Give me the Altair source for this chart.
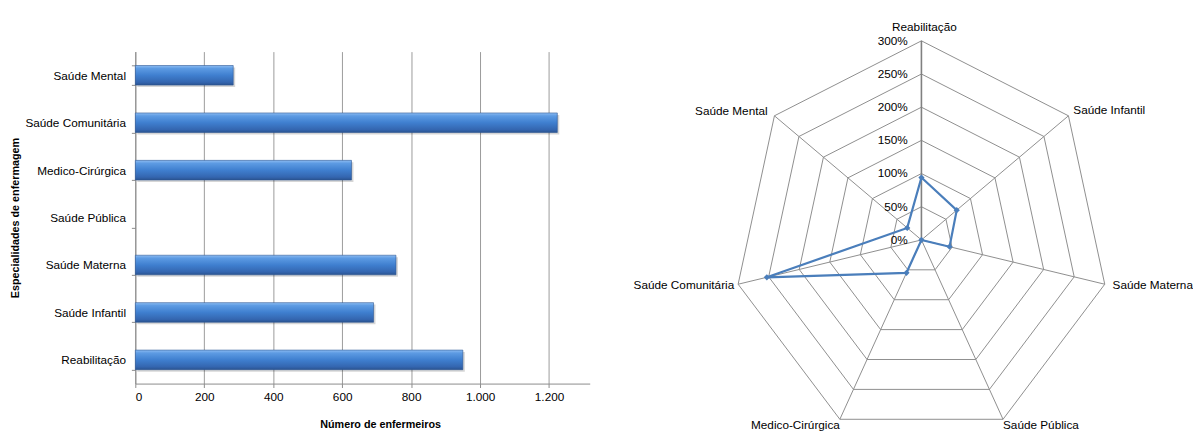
import altair as alt
import pandas as pd

# ---------------- data ----------------
bar_categories = ["Saúde Mental", "Saúde Comunitária", "Medico-Cirúrgica", "Saúde Pública",
                  "Saúde Materna", "Saúde Infantil", "Reabilitação"]
bar_values = [284, 1224, 627, 0, 756, 691, 950]
x_tick_values = [0, 200, 400, 600, 800, 1000, 1200]

radar_categories = ["Reabilitação", "Saúde Infantil", "Saúde Materna", "Saúde Pública",
                    "Medico-Cirúrgica", "Saúde Comunitária", "Saúde Mental"]
radar_values = [94, 72, 46, 0, 55, 253, 29]          # percent
radar_levels = [0, 50, 100, 150, 200, 250, 300]       # percent rings / tick labels

FONT = "Liberation Sans"
FS = 12
N = len(radar_categories)
NO_VIEW = alt.ViewBackground(strokeWidth=0, strokeOpacity=0)

# ---------------- left: horizontal bar chart ----------------
bar_df = pd.DataFrame({"cat": bar_categories, "n": bar_values})

gradient = alt.Gradient(
    gradient="linear", x1=0, x2=0, y1=0, y2=1,
    stops=[alt.GradientStop(color="#8dbcf2", offset=0),
           alt.GradientStop(color="#5d9be3", offset=0.15),
           alt.GradientStop(color="#3f7fcf", offset=0.5),
           alt.GradientStop(color="#3466b0", offset=0.85),
           alt.GradientStop(color="#2a5390", offset=1)])

x_enc = alt.X("n:Q",
              scale=alt.Scale(domain=[0, 1318], nice=False, zero=True),
              axis=alt.Axis(values=x_tick_values, title="Número de enfermeiros",
                            labelExpr="replace(format(datum.value, ','), ',', '.')",
                            grid=True, gridColor="#9a9a9a", gridWidth=1,
                            domainColor="#8a8a8a", tickColor="#8a8a8a", tickSize=4,
                            labelPadding=4, labelFontSize=FS, labelColor="#000000",
                            labelFont=FONT, titleFont=FONT, titleFontSize=11,
                            titleFontWeight="bold", titleColor="#000000",
                            titlePadding=17, titleX=250))
y_enc = alt.Y("cat:N", sort=bar_categories,
              scale=alt.Scale(domain=bar_categories, paddingInner=0.587, paddingOuter=0.2935),
              axis=alt.Axis(title="Especialidades de enfermagem", tickBand="extent",
                            domainColor="#8a8a8a", tickColor="#8a8a8a", tickSize=4,
                            labelPadding=6, labelFontSize=FS, labelColor="#000000",
                            labelFont=FONT, titleFont=FONT, titleFontSize=11,
                            titleFontWeight="bold", titleColor="#000000",
                            titlePadding=5))

bar_base = alt.Chart(bar_df).transform_filter("datum.n > 0")
shadow = bar_base.mark_bar(color="#000000", opacity=0.16, xOffset=2, yOffset=2).encode(
    x=x_enc, y=y_enc)
bars_main = bar_base.mark_bar(color=gradient, stroke="#2b5694", strokeWidth=0.6).encode(
    x=x_enc, y=y_enc)
bars = alt.layer(shadow, bars_main).properties(width=464, height=339, view=NO_VIEW)

# ---------------- right: radar chart ----------------
xs = alt.Scale(domain=[-460.5, 411.4], nice=False, zero=False)
ys = alt.Scale(domain=[-216.5, 283.8], nice=False, zero=False)

ring_df = pd.DataFrame({
    "level": [lv for lv in radar_levels[1:] for _ in range(N + 1)],
    "o": [k for _ in radar_levels[1:] for k in range(N + 1)],
})
ring_df["k"] = ring_df["o"] % N

axes_df = pd.DataFrame({"cat": radar_categories, "k": list(range(N)),
                        "r": [radar_levels[-1]] * N})

series_df = pd.DataFrame({"cat": radar_categories + radar_categories[:1],
                          "v": radar_values + radar_values[:1],
                          "o": list(range(N + 1))})
series_df["k"] = series_df["o"] % N

ticks_df = pd.DataFrame({"level": radar_levels,
                         "lab": [f"{lv}%" for lv in radar_levels]})

ang = "2*PI*datum.k/" + str(N)

rings = alt.Chart(ring_df).transform_calculate(
    x=f"datum.level*sin({ang})", y=f"datum.level*cos({ang})"
).mark_line(color="#8c8c8c", strokeWidth=1).encode(
    x=alt.X("x:Q", scale=xs, axis=None),
    y=alt.Y("y:Q", scale=ys, axis=None),
    detail="level:N", order="o:Q")

spokes = alt.Chart(axes_df).transform_calculate(
    x=f"datum.r*sin({ang})", y=f"datum.r*cos({ang})", x0="0", y0="0"
).mark_rule(color="#8c8c8c", strokeWidth=1).encode(
    x=alt.X("x0:Q", scale=xs, axis=None), y=alt.Y("y0:Q", scale=ys, axis=None),
    x2="x:Q", y2="y:Q")

value_axis = alt.Chart(axes_df).transform_filter("datum.k == 0").transform_calculate(
    x=f"datum.r*sin({ang})", y=f"datum.r*cos({ang})", x0="0", y0="0"
).mark_rule(color="#808080", strokeWidth=1.6).encode(
    x=alt.X("x0:Q", scale=xs, axis=None), y=alt.Y("y0:Q", scale=ys, axis=None),
    x2="x:Q", y2="y:Q")

series_base = alt.Chart(series_df).transform_calculate(
    x=f"datum.v*sin({ang})", y=f"datum.v*cos({ang})")

series_line = series_base.mark_line(color="#4a7ebb", strokeWidth=2.25).encode(
    x=alt.X("x:Q", scale=xs, axis=None), y=alt.Y("y:Q", scale=ys, axis=None),
    order="o:Q")
series_pts = series_base.transform_filter(f"datum.o < {N}").mark_point(
    shape="diamond", filled=True, size=40, color="#4a7ebb", opacity=1).encode(
    x=alt.X("x:Q", scale=xs, axis=None), y=alt.Y("y:Q", scale=ys, axis=None))

tick_labels = alt.Chart(ticks_df).transform_calculate(x0="0").mark_text(
    align="right", baseline="middle", dx=-14, font=FONT, fontSize=FS, color="#000000"
).encode(x=alt.X("x0:Q", scale=xs, axis=None),
         y=alt.Y("level:Q", scale=ys, axis=None), text="lab:N")

# label placement style per axis index: (align, dx, dy)
label_style = [("center", 3, -14.5), ("left", 5, -5.5), ("left", 8, 1),
               ("left", 0, 6), ("right", 0, 6), ("right", -4, 1), ("right", -7, -5)]

cat_labels = []
for k, (al, dx, dy) in enumerate(label_style):
    cat_labels.append(
        alt.Chart(axes_df).transform_filter(f"datum.k == {k}").transform_calculate(
            x=f"datum.r*sin({ang})", y=f"datum.r*cos({ang})"
        ).mark_text(align=al, baseline="middle", dx=dx, dy=dy, font=FONT,
                    fontSize=FS, color="#000000").encode(
            x=alt.X("x:Q", scale=xs, axis=None), y=alt.Y("y:Q", scale=ys, axis=None),
            text="cat:N"))

radar = alt.layer(rings, spokes, value_axis, series_line, series_pts, tick_labels,
                  *cat_labels).properties(width=558, height=339, view=NO_VIEW)

chart = alt.hconcat(bars, radar, spacing=44).properties(
    padding={"left": 1, "top": 8, "right": 0, "bottom": 0}
).configure_view(strokeWidth=0, strokeOpacity=0).configure(font=FONT)

chart.save("out.html", embed_options={"renderer": "svg", "actions": False})
